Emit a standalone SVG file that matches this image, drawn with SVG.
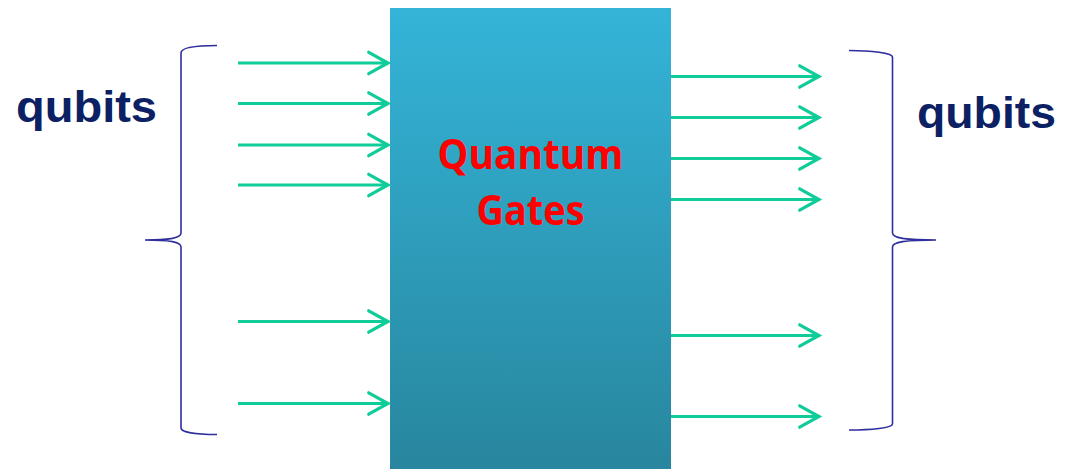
<svg xmlns="http://www.w3.org/2000/svg" width="1070" height="469" viewBox="0 0 1070 469">
<style>
.arr{stroke:#10CC98;stroke-width:3;fill:none;marker-end:url(#head)}
.brace{stroke:#2E2E9E;stroke-width:1.6;fill:none}
.q{font-family:"Liberation Sans",Arial,sans-serif;font-weight:bold;font-size:44px;fill:#0B2163}
.g{font-family:"Open Sans","Liberation Sans",sans-serif;font-weight:bold;font-size:41px;fill:#FF0000;text-anchor:middle}
</style>
<defs>
<linearGradient id="bg" x1="0" y1="0" x2="0" y2="1">
<stop offset="0" stop-color="#34B4D8"/>
<stop offset="1" stop-color="#28869E"/>
</linearGradient>
<marker id="head" markerUnits="userSpaceOnUse" markerWidth="30" markerHeight="30" viewBox="-24 -14 28 28" refX="0" refY="0" orient="auto">
<path d="M-18,-10 L0,0 L-18,10" fill="none" stroke="#10CC98" stroke-width="3" stroke-linecap="round" stroke-linejoin="miter"/>
</marker>
</defs>
<g id="gate">
<rect x="390" y="8" width="281" height="461" fill="url(#bg)"/>
<text class="g" x="530.5" y="169" textLength="186" lengthAdjust="spacingAndGlyphs">Quantum</text>
<text class="g" x="530.5" y="225" textLength="108" lengthAdjust="spacingAndGlyphs">Gates</text>
</g>
<g id="input-qubits">
<path class="brace" d="M217,45.5 C195,45.5 181,48 181,53 L181,233 C181,238 170,240 145,240 C170,240 181,242 181,247 L181,428 C181,432 195,434.5 217,434.5"/>
<text class="q" x="16" y="122" textLength="141" lengthAdjust="spacingAndGlyphs">qubits</text>
</g>
<g id="output-qubits">
<path class="brace" d="M849,50.5 C871,50.5 892.5,53 892.5,57 L892.5,233 C892.5,238 905,240 936,240 C905,240 892.5,242 892.5,247 L892.5,424 C892.5,428 871,430 849,430"/>
<text class="q" x="917" y="127.5" textLength="139" lengthAdjust="spacingAndGlyphs">qubits</text>
</g>
<g id="connectors">
<line class="arr" x1="238" y1="63" x2="388" y2="63"/>
<line class="arr" x1="238" y1="103.5" x2="388" y2="103.5"/>
<line class="arr" x1="238" y1="145" x2="388" y2="145"/>
<line class="arr" x1="238" y1="185" x2="388" y2="185"/>
<line class="arr" x1="238" y1="321.5" x2="388" y2="321.5"/>
<line class="arr" x1="238" y1="403.5" x2="388" y2="403.5"/>
<line class="arr" x1="671" y1="76.5" x2="819" y2="76.5"/>
<line class="arr" x1="671" y1="117.5" x2="819" y2="117.5"/>
<line class="arr" x1="671" y1="158.5" x2="819" y2="158.5"/>
<line class="arr" x1="671" y1="199.5" x2="819" y2="199.5"/>
<line class="arr" x1="671" y1="335.5" x2="819" y2="335.5"/>
<line class="arr" x1="671" y1="416.5" x2="819" y2="416.5"/>
</g>
</svg>
